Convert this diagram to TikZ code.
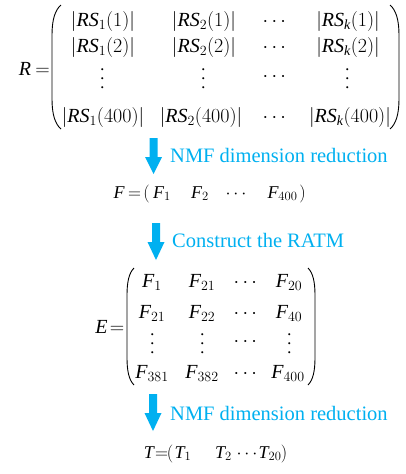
\documentclass[tikz,border=0pt]{standalone}
\usepackage{fix-cm}
\usepackage{amsmath}
\usepackage{fontspec}
\setmainfont{Liberation Serif}
\definecolor{arrowblue}{HTML}{00B0F0}
\newcommand{\iv}[1]{\textit{#1}}
\newcommand{\ab}[1]{\left\lvert #1\right\rvert}
\tikzset{
  ment/.style={anchor=base, inner sep=0pt, font=\fontsize{20}{24}\selectfont},
  mdot/.style={anchor=center, inner sep=0pt, font=\fontsize{20}{24}\selectfont},
  vdot/.style={mdot, rotate=90},
  lent/.style={anchor=base, inner sep=0pt, font=\fontsize{18}{22}\selectfont},
  lbl/.style={anchor=base west, inner sep=0pt, text=arrowblue, font=\fontsize{20.5}{24}\selectfont},
  paren/.style={line width=0.9pt},
  blockarrow/.style={fill=arrowblue, draw=none},
}
\begin{document}
\begin{tikzpicture}[x=1pt,y=-1pt]
\path[use as bounding box] (0,0) rectangle (405,474);

% ---------- R matrix ----------
\node[ment] (Rl) at (25,75) {$\iv{R}$};
\node[ment] (Req) at (42.5,75) {$=$};
\draw[paren] (61,5) .. controls (55,10) and (52,20) .. (52,35) -- (52,99) .. controls (52,114) and (55,124) .. (61,129);
\draw[paren] (390,5) .. controls (396,10) and (399,20) .. (399,35) -- (399,99) .. controls (399,114) and (396,124) .. (390,129);

\node[ment] (r11) at (103,26) {$\ab{\iv{RS}_1(1)}$};
\node[ment] (r12) at (204,26) {$\ab{\iv{RS}_2(1)}$};
\node[ment] (r13) at (276,26) {$\cdots$};
\node[ment] (r14) at (348,26) {$\ab{\iv{RS}_{\iv{k}}(1)}$};

\node[ment] (r21) at (103,52) {$\ab{\iv{RS}_1(2)}$};
\node[ment] (r22) at (204,52) {$\ab{\iv{RS}_2(2)}$};
\node[ment] (r23) at (276,52) {$\cdots$};
\node[ment] (r24) at (348,52) {$\ab{\iv{RS}_{\iv{k}}(2)}$};

\node[vdot] (r31) at (103,77) {$\cdots$};
\node[vdot] (r32) at (204,77) {$\cdots$};
\node[mdot] (r33) at (276,77) {$\cdots$};
\node[vdot] (r34) at (348,77) {$\cdots$};

\node[ment] (r41) at (103,122) {$\ab{\iv{RS}_1(400)}$};
\node[ment] (r42) at (201,122) {$\ab{\iv{RS}_2(400)}$};
\node[ment] (r43) at (276,122) {$\cdots$};
\node[ment] (r44) at (350,122) {$\ab{\iv{RS}_{\iv{k}}(400)}$};

% ---------- arrow 1 ----------
\fill[blockarrow] (149.5,138) -- (157.5,138) -- (157.5,157) -- (162,157) -- (153.5,174) -- (145,157) -- (149.5,157) -- cycle;
\node[lbl] (t1) at (170,162) {NMF dimension reduction};

% ---------- F line ----------
\node[lent] (Fl) at (119,198) {$\iv{F}$};
\node[lent] (Feq) at (134.5,198) {$=$};
\node[lent] (Flp) at (146.5,198) {$($};
\node[lent] (F1) at (162,198) {$\iv{F}_1$};
\node[lent] (F2) at (200,198) {$\iv{F}_2$};
\node[lent] (Fd) at (237.5,198) {$\cdots$};
\node[lent] (F400) at (282.5,198) {$\iv{F}_{400}$};
\node[lent] (Frp) at (302.5,198) {$)$};

% ---------- arrow 2 ----------
\fill[blockarrow] (152,223) -- (160,223) -- (160,242) -- (164.5,242) -- (156,260) -- (147.5,242) -- (152,242) -- cycle;
\node[lbl] (t2) at (172,247) {Construct the RATM};

% ---------- E matrix ----------
\node[ment] (El) at (101.5,333) {$\iv{E}$};
\node[ment] (Eeq) at (117,333) {$=$};
\draw[paren] (134,268) .. controls (129,273) and (127,282) .. (127,295) -- (127,358) .. controls (127,371) and (129,380) .. (134,385);
\draw[paren] (308,268) .. controls (313,273) and (315,282) .. (315,295) -- (315,358) .. controls (315,371) and (313,380) .. (308,385);

\node[ment] (e11) at (152,287) {$\iv{F}_1$};
\node[ment] (e12) at (202,287) {$\iv{F}_{21}$};
\node[ment] (e13) at (247,287) {$\cdots$};
\node[ment] (e14) at (289,287) {$\iv{F}_{20}$};

\node[ment] (e21) at (152,318) {$\iv{F}_{21}$};
\node[ment] (e22) at (202,318) {$\iv{F}_{22}$};
\node[ment] (e23) at (247,318) {$\cdots$};
\node[ment] (e24) at (289,318) {$\iv{F}_{40}$};

\node[vdot] (e31) at (153,342) {$\cdots$};
\node[vdot] (e32) at (203,342) {$\cdots$};
\node[mdot] (e33) at (247,342) {$\cdots$};
\node[vdot] (e34) at (290,342) {$\cdots$};

\node[ment] (e41) at (152,378) {$\iv{F}_{381}$};
\node[ment] (e42) at (202,378) {$\iv{F}_{382}$};
\node[ment] (e43) at (247,378) {$\cdots$};
\node[ment] (e44) at (288,378) {$\iv{F}_{400}$};

% ---------- arrow 3 ----------
\fill[blockarrow] (149,394) -- (157,394) -- (157,413) -- (161.5,413) -- (153,431) -- (144.5,413) -- (149,413) -- cycle;
\node[lbl] (t3) at (170,420) {NMF dimension reduction};

% ---------- T line ----------
\node[lent] (Tl) at (149,458) {$\iv{T}$};
\node[lent] (Teq) at (161.5,458) {$=$};
\node[lent] (Tlp) at (170,458) {$($};
\node[lent] (T1) at (183,458) {$\iv{T}_1$};
\node[lent] (T2) at (223.5,458) {$\iv{T}_2$};
\node[lent] (Td) at (248.5,458) {$\cdots$};
\node[lent] (T20) at (270,458) {$\iv{T}_{20}$};
\node[lent] (Trp) at (284,458) {$)$};
\end{tikzpicture}
\end{document}
